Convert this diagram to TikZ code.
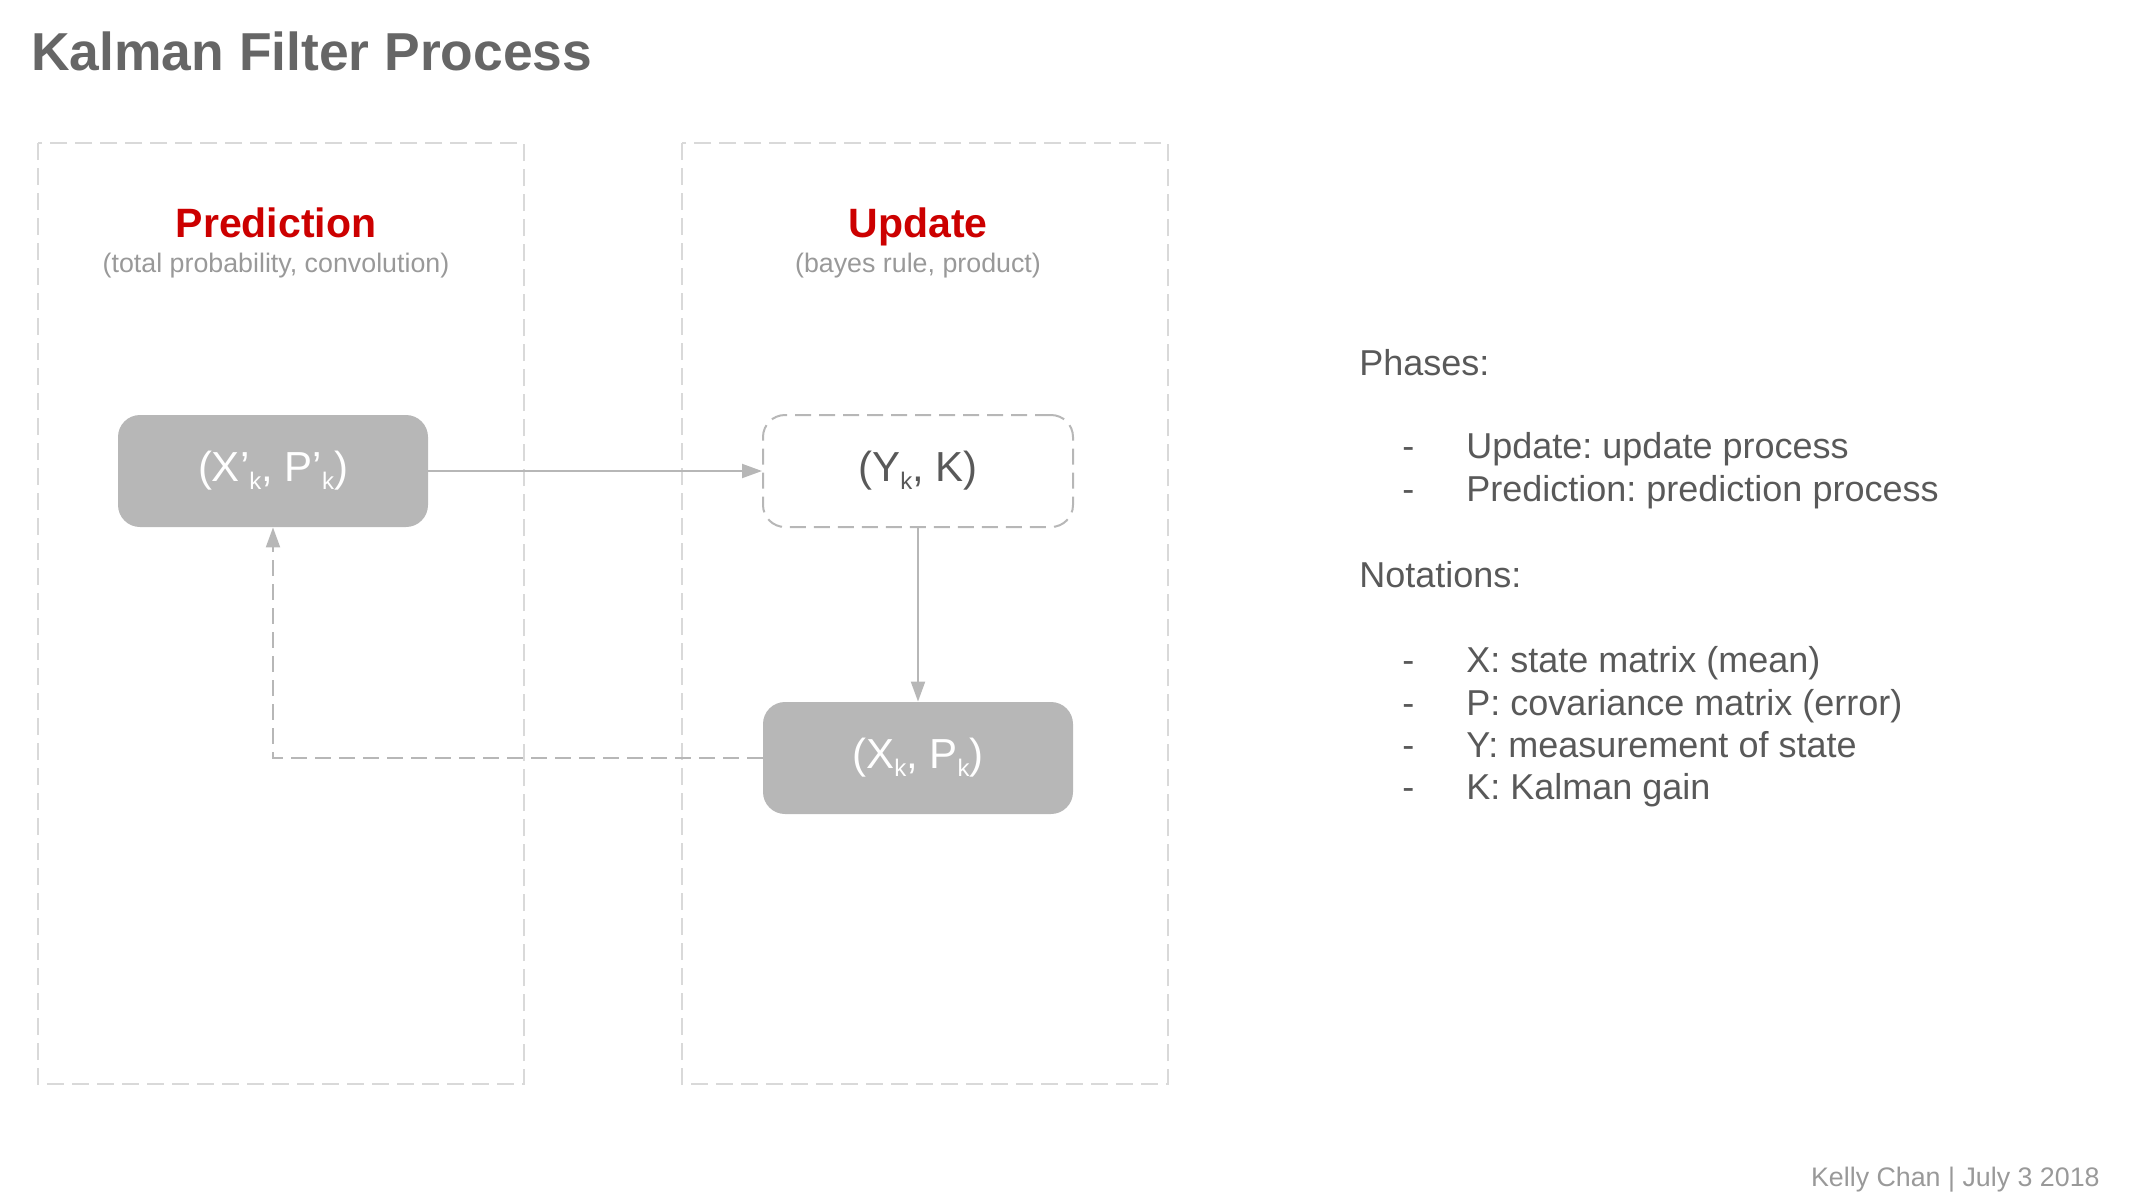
\documentclass[tikz,border=0pt]{standalone}
\usepackage{fontspec}
\setmainfont{Liberation Sans}
\usepackage{xcolor}
\usetikzlibrary{arrows.meta,positioning}
\definecolor{titlegray}{HTML}{666666}
\definecolor{subgray}{HTML}{999999}
\definecolor{textgray}{HTML}{595959}
\definecolor{boxgray}{HTML}{B7B7B7}
\definecolor{framegray}{HTML}{D9D9D9}
\definecolor{headred}{HTML}{CC0000}
\tikzset{statebox/.style={rectangle,rounded corners=11pt,minimum width=155pt,minimum height=56pt,inner sep=0pt,font=\fontsize{21pt}{25pt}\selectfont}}
\tikzset{fillbox/.style={statebox,fill=boxgray,text=white}}
\tikzset{dashbox/.style={statebox,draw=boxgray,line width=1pt,dash pattern=on 8pt off 4pt,text=textgray}}
\tikzset{phase/.style={draw=framegray,line width=1pt,dash pattern=on 8.5pt off 4pt}}
\tikzset{link/.style={draw=boxgray,line width=1pt,-{Triangle[length=10pt,width=7pt]}}}
\tikzset{head/.style={anchor=base,text=headred,font=\fontsize{20.5pt}{24pt}\selectfont\bfseries}}
\tikzset{sub/.style={anchor=base,text=subgray,font=\fontsize{13.4pt}{16pt}\selectfont}}
\tikzset{note/.style={anchor=base west,inner sep=0pt,text=textgray,font=\fontsize{18pt}{21pt}\selectfont}}
\newcommand{\ksub}{\raisebox{-4pt}{\fontsize{12pt}{12pt}\selectfont k}}
\frenchspacing

\begin{document}
\begin{tikzpicture}[x=0.5pt,y=-0.5pt,>=stealth]
        \useasboundingbox (0,0) rectangle (2142,1200);

        % title
        \node[anchor=base west,inner sep=0pt,text=titlegray,font=\fontsize{26.7pt}{32pt}\selectfont\bfseries] (title) at (31,70) {Kalman Filter Process};

        % phase frames
        \draw[phase] (38,143) rectangle (524,1084);
        \draw[phase] (682,143) rectangle (1168,1084);

        \node[head] (pred) at (276,237) {Prediction};
        \node[sub] (predsub) at (276,272) {(total probability, convolution)};
        \node[head] (upd) at (918,237) {Update};
        \node[sub] (updsub) at (918,272) {(bayes rule, product)};

        % states
        \node[fillbox] (xp) at (273,471) {(X’\ksub, P’\ksub)};
        \node[dashbox] (yk) at (918,471) {(Y\ksub, K)};
        \node[fillbox] (xk) at (918,758) {(X\ksub, P\ksub)};

        \draw[link] (xp) -- (yk);
        \draw[link] (yk) -- (xk);
        \draw[link,dash pattern=on 8pt off 4pt] (xk.west) -| (xp.south);

        % notes
        \node[note] (phases) at (1359,375) {Phases:};
        \node[note] (d1) at (1402,458) {-};
        \node[note] (n1) at (1466,458) {Update: update process};
        \node[note] (d2) at (1402,501) {-};
        \node[note] (n2) at (1466,501) {Prediction: prediction process};
        \node[note] (notations) at (1359,587) {Notations:};
        \node[note] (d3) at (1402,672) {-};
        \node[note] (n3) at (1466,672) {X: state matrix (mean)};
        \node[note] (d4) at (1402,715) {-};
        \node[note] (n4) at (1466,715) {P: covariance matrix (error)};
        \node[note] (d5) at (1402,757) {-};
        \node[note] (n5) at (1466,757) {Y: measurement of state};
        \node[note] (d6) at (1402,799) {-};
        \node[note] (n6) at (1466,799) {K: Kalman gain};

        \node[anchor=base east,inner sep=0pt,text=subgray,font=\fontsize{13.4pt}{16pt}\selectfont] (sign) at (2100,1186) {Kelly Chan | July 3 2018};
    \end{tikzpicture}
\end{document}
